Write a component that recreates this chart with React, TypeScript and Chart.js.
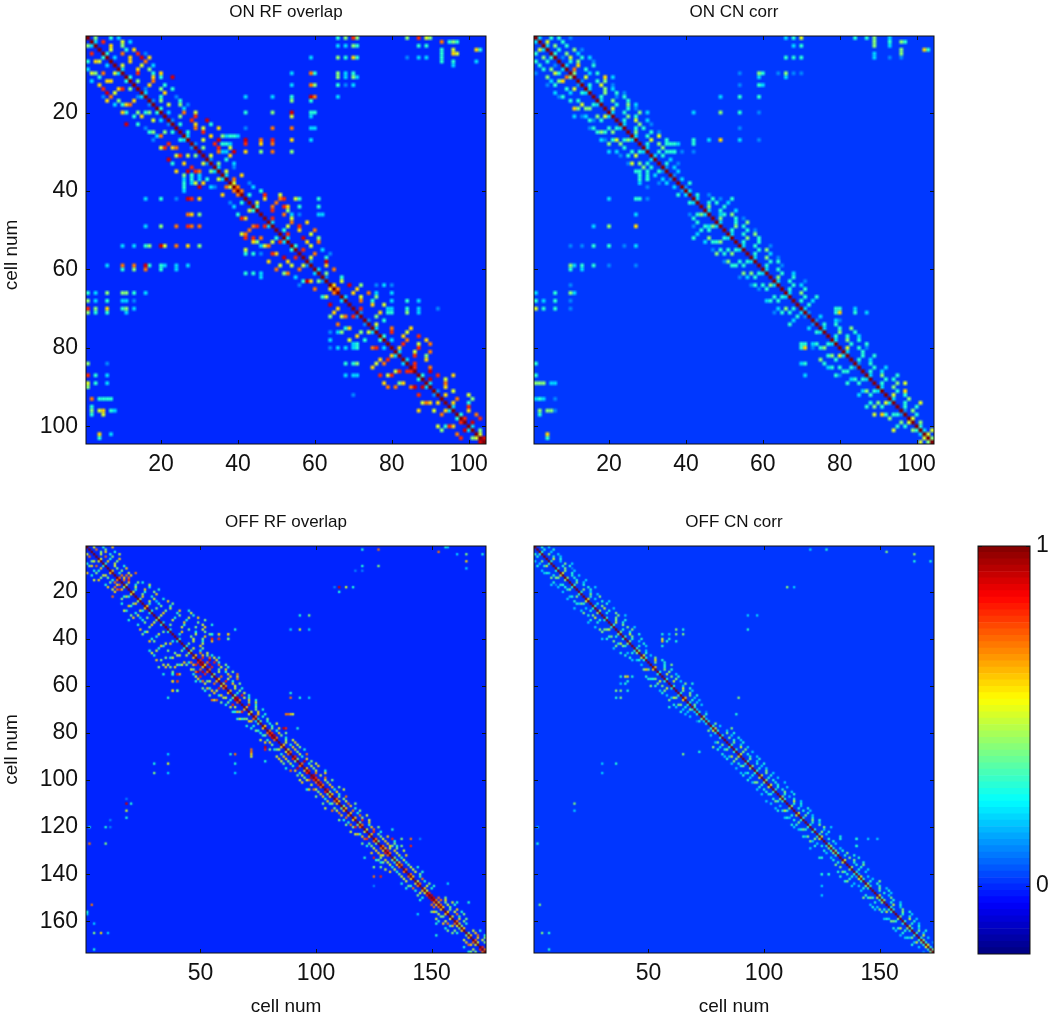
import { useEffect, useRef } from "react";
import { Chart, registerables } from "chart.js";

Chart.register(...registerables);

// Matrices are symmetric. Band rows: char k of row r is the level of the cell (r, r+k+1).
// Levels: "." empty, 0 = 0.05, 1..9 = 0.1..0.9, X = 1. Spots: "row|col:level ...".
const onRfBand = [
  ".4...3.2", "2.8....5.2", "...6..4", "..5...3.6", "3...7...8.1", ".2...6..9.6", "....6...7", ".5....5..2", "2...6..4", "...8...3.6",
  "3.....6.3..9", ".4...7", "...6...3", ".1...4..3", "2....6", "...3...1", "1.4....3", "...5..4.1", "3.....2", ".2...7..5",
  "...4...8", "1....8...9", ".3...6...3", "....7.5...6", ".3...8", "2.....6..4", "...5...9", "1....8.2", ".4...8..5", "....7...9",
  ".5....6", "1...3", ".4...2", "2...1", ".5", "2...6", ".7", "5...1", "7...2", "7....3",
  ".3...8...5", "....6...7...5", ".5....7", "3...7...6", "...8...4", ".....7.2.1", ".8....5", "2....7...6", "...5..8", ".3...6...7",
  ".8.....5", "2...9...4", "....6..7", "3...5", ".8....2", "...7...1", ".5...3", "1...9", "...6", "2...7",
  ".4", "1...3", "...5", "6...9..4", "7....6", "...6...7", "2...5...4", "...7..3", ".....6..5", ".8",
  "1....6", "...4", "1...3", ".5", "2...7....6", "...8...5", "3....6...8", ".2...7....6", "...8...5..7", ".6....8",
  "2...5...7", "...8..4", "2....6", ".8", "8...7", "...9", "3...8...6", ".9...5", "2...7", "...6",
  "1...5", ".6.....5", "...7...4", ".6...3", "2...8", "...6....5", "3...7", "8...8", ".9", "2...5",
  ".4", "5.8", "9",
];
const onRfSpots = [
  "1|66:3 68:4 70:8 71:4 84:4 87:8 89:5 90:4", "2|93:7 95:3 96:4 97:3", "3|66:2 68:2 70:4 71:3 87:3 89:3", "4|93:3 96:5 102:6 103:3",
  "5|93:3 96:6 97:5", "6|59:2 66:4 68:3 70:6 71:3 84:1 87:2 89:2 93:3", "7|93:3 96:3 102:2", "8|96:2", "10|54:2 59:7 60:3 66:4 68:2 70:3",
  "11|66:4 68:2 70:4 71:2", "13|54:2 59:7 60:4 66:3 68:1 70:2", "16|42:2 49:2 54:3 59:9 60:7 66:2", "17|54:4 59:3", "20|42:3 49:4 54:9 59:3 60:3",
  "21|54:5 59:2", "24|42:1 49:7 54:7 59:2 60:2", "26|37:2 38:3 39:3 40:2", "27|42:9 46:7 49:8 54:6 59:2", "28|36:3 37:3 38:2 42:8 46:6 49:7",
  "30|36:2 37:2 42:6 46:4 49:7 54:4", "42|52:8 56:3 61:3", "44|52:8 56:3 61:3", "46|61:2 62:2", "64|76:1 78:2 80:1", "66|76:2 80:2",
  "68|80:2 84:3 87:2", "70|79:2 80:2 84:3 87:2 92:1", "71|79:3 80:3 84:4 87:2",
];

const onCnBand = [
  "2..3.3..1", ".5...3", "2.4..3", "..3...4.1", "3..4..2", ".1.5..3.2", "..3.4...1", "2..6...3", ".7..3", "4...2.3",
  "..5....6.2", "1...3.4", ".3..5..1", "2...4.2", "...4..3.1", ".3...1.3", "2..4...3", "...3..4.2", ".5...3.1", "2..3...4.2",
  "...4.3", ".3..5..2", "2...4..1", "..3.3", ".4...3.1", "2..3..5", "...5...3", ".3..4..1", "2...4", "..3...3.1",
  "2.3", "...2", ".3..1", "1.2", "..2", "1", ".2", "..3", "1", "2",
  ".3..1", "2...3", "..3.3..2", ".4...3", "2..3...2", "...3.4", ".4...3.1", "2...3..4", "...4.3", ".3...3.1",
  "2..3..4", "...4..3", ".3...3", "2..3...1", "...3.4", ".3...2", "2..4..1", "...3.3", ".3...1", "2..3",
  "...3..2", ".4...3", "2..3...1", "...3.2", ".3...3", "2..4", "...3..3", ".3..2", "..3", "2",
  "1", "..2", "1", ".3..3", "2...3..4", "...4...3", ".3..3..2", "2..4..3", "...3...3", ".5..3.1",
  "2...3", "...3..3", ".3..2", "1..3", "...3..2", ".3..2", "2..4...3", "...3.3", ".3...4.5", "2..4",
  "...3.6", ".5..3", "2...4", "..3...5", ".3..3", "1.4", "..3", "5", ".4", "3",
  "2.5", "5", "4",
];
const onCnSpots = [
  "1|66:2 68:3 70:5 84:3 87:3 89:4 93:2", "2|89:4 93:3 96:4 97:3", "3|68:2 70:3 89:4 93:2", "4|96:4 102:6 103:3", "5|89:2 96:4",
  "6|66:3 68:3 70:3 89:2 93:1 96:1", "10|54:1 59:4 60:3 64:1 66:4 68:1 70:1", "11|59:2 66:2", "13|54:1 59:3 60:2", "16|49:2 54:3 59:3",
  "20|42:2 49:4 54:3 59:1", "24|54:1", "27|42:3 46:2 49:6 54:2 59:1", "28|35:3 36:3 37:3 38:2 42:3", "30|35:3 36:3 37:2 42:1",
  "42|49:1 52:3", "46|49:2", "70|79:3 80:3 84:2", "71|79:3 80:6 84:3 87:2", "73|79:2 80:1",
];

const offRfBand = [
  "..5...3...6", "..7...4", "...4.6...3", "..5...3...5", "...7..4", "5...3...6", "..6...4", "3...5", "...5...3", "...4...6",
  "6...4", "..3...5..7", "..7.7.6", "7.6.7", ".7.8", "..6...4.3", "4...3.....5", "...5.....3", "..3...6.....3", "5....3...4",
  "...4.....6", "..6...3", "4.....5...3", "...5..2....6", "..3...3.....4", "6.....4...3", "...4.....5", "3.....4.....6...3", "....6.....3.....5", "..5.......4.....3",
  "4......3.....5...6", ".....5.....3.......4", "3........6.....4", "..4.....3.......5...3", "......5.....4...6", "3.......4.....5", "....6.....3...4", "..3......5.....4", "......4.....6", "3.....5...4",
  ".....5...3...6", "..4.....5", "3.....6", "..5...4", "4...3", "...7..5", "6..6.4.3", "..8..7.5.3", "8...9..6", "9.7..8.3",
  "6.9...7..4", "..8...5..3", "7...4..6", "...5..3..4", "4.....6...7", "..7...6..5", "6...5...7", "..8..3", "5...6..4", "7...5",
  "...5..3", "6...4", "..3..5", "4..8..3", "9..5.3", "7...6..3", "...4..5", "..8..3", "6...4", "...4..3",
  "5..6", "..6..3", "7..3", "2...4", "4..3", "...3..5", "6..3", "..4..6", "7..3", "8..6..4",
  "9..4", "7...3", "...4..5", "..5...6", "6..3..5", "...6..4", "5..6...3", "7..4", "...5..7", "8..3",
  "4...6", "..9..4", "7..3..5", "...5..6", "6..4", "8..5...3", "..7...6", "9..5", "8...7", "7..5..4",
  "8..4", "7..6", "...6..4", "8..3...5", "4..6", "6..3", "..4..7", "7..4", "6..5", "...7..4",
  "4..6", "6...3", "..7..4", "6..3", "...7..5", "6..4", "..8..5", "4...6", "7..3", "...6..4",
  "5..7", "..8..3", "6..4", "...4..6", "7..5", "4..6...3", "...6..4", "7..6..3", "6.5..4", "8..6...5",
  "7..5", "...5..6", "4..3", "3..5", "6..3", "7..4", "...5..3", "7..5", "...5..3", "7...4",
  "6..3", "...7", "5..3", "7...4", "..5..3", "6..3", "5", "8", "9", "9.7..4",
  "7.7.6", "6..4..5", "7..5..3", "6..4", "..4..6", "6..5..3", "...7..4", "5..3", "..6..4", "7..4",
  "5..3", "4", "6", "...5..3", "4..6", "6..7..3", "..6..4", "7..5", "5..4..6", "...6..3",
  "8..5", "7..4", "8..5..3",
];
const offRfSpots = [
  "1|156:3 157:2", "2|120:3 127:7", "3|153:7", "4|161:2 165:4 172:3", "7|165:6", "9|120:3 127:4", "10|165:2", "11|117:1 120:1",
  "18|108:1 110:9 113:5 116:3", "20|110:3", "30|93:3 97:4", "36|65:3 89:2 93:5 97:2", "38|55:3 58:5 62:6", "40|55:8 58:6 62:4",
  "55|38:3 40:8", "58|38:6 40:8", "62|38:6 40:3", "63|89:3", "65|89:7 93:3 97:2", "72|87:7 88:7 89:6 90:5", "78|86:9 87:8 92:3",
  "121|133:3", "125|133:8 137:4 141:7 145:1", "128|133:4 137:4 141:8", "152|161:3 166:3", "144|157:2",
];

const offCnBand = [
  "..3..2", "..3...3", "3...2", "..4...2", "...3..2", "..5..3", "3...2", ".....4..2", "...3..3", "3..4..1",
  "..4...2", "5...3", "...3..2", "4..3", "...3...2", "..4..2", "3...3", ".....3..2", "..4..3", "3...2",
  "...4..2", "..3...4", "5..2", ".....3..2", "..3...3", "3..4", "...5...2", "4...3", "..3...4", "......4..2",
  "3...4", "...4...3", "..5..3", "3...4", ".....4..2", "..3...4", "4...3", "...5...3", "3..4", "..3...3",
  "4...2", ".....3", "..3..2", "3", "4..2", "..3", "5..2", "3...4", "...6..3", "..4...3",
  ".....3..4", "6...3", "...4..3", "3...4", "..5...2", "...4..3", "3...4", "..5..2", "......4..3", "3...2",
  "...5..3", "..4...2", "3...4", "...4..3", "6...2", "..3..2", "3..2", ".4..2", "3", "2",
  "3..1", "..3", "4", "2", "3", "..4", "3..2", "5", "3...2", "...4..3",
  "3...2", "..4...3", "...3..2", "..4...3", "3...2", "...5..2", "3...4", "..4...2", "5..3", "...3..2",
  "..4...3", "3...2", "...3..3", "4...2", "..3..2", "3...4", "...4..2", "5...3", "..3...2", "4..3",
  "...3...2", "5..3", "..3...2", "3..3", "...4..2", "..3...3", "4..2", "3...3", "...5..2", "..3..3",
  "4...2", "..3...3", "...3..2", "5...3", "..4..2", "3...3", "...4..3", "..3..2", "3...4", ".....4..2",
  "3...2", "..4..3", "3..2", "5", "..3", "...3", "3..2", "4", "3..2", "4..3",
  "3...4", "..3...3", "...4...3", "5...4", "...3...3", "...3..4", "4...3", "..3...2", "3...2", "2",
  "5..2", "3...2", "..3...4", "4...3", "3...3", "...4..2", "..3...3", "...3..2", "5...2", "3...4",
  "4...3", "..3...2", "..5..3", "3...2", "3...4", "...4..3", "..3...2", "4...3", "...5..2", "3...3",
  "..3..2", "4...3", "3..2", "..4..3", "3..2", "..5", "3..2", "4", "3..1", "5",
  "3", "4", "3",
];
const offCnSpots = [
  "2|120:2 127:3", "3|153:4", "4|165:4", "7|165:3 172:3", "18|110:4 113:2", "30|93:2 97:2", "36|62:4 65:3 93:3", "38|56:3 59:2",
  "40|56:5 59:3", "56|41:6 43:3", "58|41:3", "62|38:4 41:3", "65|38:4 89:4", "72|88:3", "78|86:4", "125|133:3 140:3 145:2 149:2",
  "128|140:3", "133|124:3", "140|125:3 128:3",
];

const panelNames = ["ON RF overlap", "ON CN corr", "OFF RF overlap", "OFF CN corr"];
const onTicks = [20, 40, 60, 80, 100];
const offXTicks = [50, 100, 150];
const offYTicks = [20, 40, 60, 80, 100, 120, 140, 160];
const colorbarTicks = [0, 1];

const CMIN = -0.2;
const CMAX = 1;
const clamp = (v: number) => Math.max(0, Math.min(1, v));
const jet = (value: number) => {
  const idx = Math.min(63, Math.max(0, Math.floor(((value - CMIN) / (CMAX - CMIN)) * 64)));
  const f = (idx + 0.5) / 64;
  const r = clamp(Math.min(4 * f - 1.5, -4 * f + 4.5));
  const g = clamp(Math.min(4 * f - 0.5, -4 * f + 3.5));
  const b = clamp(Math.min(4 * f + 0.5, -4 * f + 2.5));
  return `rgb(${Math.round(r * 255)},${Math.round(g * 255)},${Math.round(b * 255)})`;
};
const level = (c: string) => (c === "X" ? 1 : c === "0" ? 0.05 : Number(c) / 10);

type Cell = { x: number; y: number; v: number };
const buildCells = (band: string[], spots: string[], size: number) => {
  const cells: Cell[] = [];
  const add = (r: number, c: number, v: number) => {
    if (r > size || c > size) return;
    cells.push({ x: c, y: r, v });
    if (r !== c) cells.push({ x: r, y: c, v });
  };
  band.forEach((row, i) => {
    [...row].forEach((ch, k) => {
      if (ch !== ".") add(i + 1, i + k + 2, level(ch));
    });
  });
  spots.forEach((s) => {
    const [r, rest] = s.split("|");
    rest.split(" ").forEach((p) => {
      const [c, l] = p.split(":");
      add(Number(r), Number(c), level(l));
    });
  });
  for (let i = 1; i <= size; i++) add(i, i, 1);
  return cells.sort((a, b) => a.v - b.v);
};

const FONT = "'Liberation Sans', Arial, sans-serif";

const frame = {
  id: "frame",
  beforeDatasetsDraw(chart: any, _a: any, o: any) {
    const { ctx, chartArea: a } = chart;
    if (o.bg != null) {
      ctx.fillStyle = jet(o.bg);
      ctx.fillRect(a.left, a.top, a.width, a.height);
    }
  },
  afterDatasetsDraw(chart: any, _a: any, o: any) {
    const { ctx, chartArea: a, scales, canvas } = chart;
    if (o.blur) {
      // Soften the finished cells as a whole: average of the picture over small shifts.
      const w = Math.round(a.width);
      const h = Math.round(a.height);
      const l = Math.round(a.left);
      const t = Math.round(a.top);
      const copy = document.createElement("canvas");
      copy.width = w;
      copy.height = h;
      copy.getContext("2d")!.drawImage(canvas, l, t, w, h, 0, 0, w, h);
      ctx.save();
      ctx.beginPath();
      ctx.rect(l, t, w, h);
      ctx.clip();
      ctx.imageSmoothingEnabled = true;
      const d = o.blur;
      const shifts = [[0, 0], [-d, 0], [d, 0], [0, -d], [0, d], [-d, -d], [d, d], [-d, d], [d, -d]];
      shifts.forEach(([dx, dy], n) => {
        ctx.globalAlpha = 1 / (n + 1);
        ctx.drawImage(copy, l + dx, t + dy);
      });
      ctx.restore();
    }
    ctx.save();
    ctx.strokeStyle = "#111";
    ctx.lineWidth = 1;
    ctx.beginPath();
    const L = 4;
    if (scales.x.type === "linear") {
      scales.x.ticks.forEach((tk: any) => {
        const p = Math.round(scales.x.getPixelForValue(tk.value)) + 0.5;
        ctx.moveTo(p, a.top);
        ctx.lineTo(p, a.top + L);
        ctx.moveTo(p, a.bottom);
        ctx.lineTo(p, a.bottom - L);
      });
    }
    scales.y.ticks.forEach((tk: any) => {
      const p = Math.round(scales.y.getPixelForValue(tk.value)) + 0.5;
      ctx.moveTo(a.left, p);
      ctx.lineTo(a.left + L, p);
      ctx.moveTo(a.right, p);
      ctx.lineTo(a.right - L, p);
    });
    ctx.stroke();
    ctx.strokeRect(a.left, a.top, a.width, a.height);
    ctx.restore();
    if (o.yLabel) {
      ctx.save();
      ctx.translate(12, (a.top + a.bottom) / 2 + o.yLabelShift);
      ctx.rotate(-Math.PI / 2);
      ctx.fillStyle = "#111";
      ctx.font = `19px ${FONT}`;
      ctx.textAlign = "center";
      ctx.textBaseline = "middle";
      ctx.fillText(o.yLabel, 0, 0);
      ctx.restore();
    }
  },
};

type PanelSpec = {
  title: string; band: string[]; spots: string[]; size: number; xTicks: number[]; yTicks: number[];
  left: number; top: number; width: number; height: number; yWidth: number; xHeight: number; padRight: number;
  showY: boolean; showXTitle: boolean; bg: number; blur: number; yLabelShift: number;
};

const panels: PanelSpec[] = [
  { title: panelNames[0], band: onRfBand, spots: onRfSpots, size: 104, xTicks: onTicks, yTicks: onTicks, left: 0, top: 0, width: 500, height: 500, yWidth: 86, xHeight: 56, padRight: 14, showY: true, showXTitle: false, bg: 0, blur: 1.0, yLabelShift: 15 },
  { title: panelNames[1], band: onCnBand, spots: onCnSpots, size: 104, xTicks: onTicks, yTicks: onTicks, left: 520, top: 0, width: 446, height: 500, yWidth: 14, xHeight: 56, padRight: 32, showY: false, showXTitle: false, bg: 0.01, blur: 1.0, yLabelShift: 0 },
  { title: panelNames[2], band: offRfBand, spots: offRfSpots, size: 173, xTicks: offXTicks, yTicks: offYTicks, left: 0, top: 510, width: 500, height: 506, yWidth: 86, xHeight: 63, padRight: 14, showY: true, showXTitle: true, bg: 0, blur: 0.6, yLabelShift: 0 },
  { title: panelNames[3], band: offCnBand, spots: offCnSpots, size: 173, xTicks: offXTicks, yTicks: offYTicks, left: 520, top: 510, width: 446, height: 506, yWidth: 14, xHeight: 63, padRight: 32, showY: false, showXTitle: true, bg: 0.02, blur: 0.6, yLabelShift: 0 },
];

const setTicks = (vals: number[]) => (scale: any) => {
  scale.ticks = vals.map((value) => ({ value }));
};

function panelConfig(p: PanelSpec): any {
  const cells = buildCells(p.band, p.spots, p.size);
  return {
    type: "scatter",
    data: {
      datasets: [
        {
          data: cells.map(({ x, y }) => ({ x, y })),
          pointStyle: "rect",
          pointBorderWidth: 0,
          pointBackgroundColor: cells.map((c) => jet(c.v)),
          pointRadius: (ctx: any) => {
            const a = ctx.chart.chartArea;
            if (!a) return 2;
            return (((a.width + a.height) / 2 / p.size) * Math.SQRT2) / 2;
          },
        },
      ],
    },
    plugins: [frame],
    options: {
      responsive: false,
      animation: false,
      events: [],
      parsing: false,
      normalized: true,
      layout: { padding: { right: p.padRight, top: 0, bottom: 0, left: 0 } },
      plugins: {
        legend: { display: false },
        tooltip: { enabled: false },
        frame: { bg: p.bg, blur: p.blur, yLabel: p.showY ? "cell num" : "", yLabelShift: p.yLabelShift },
        title: {
          display: true,
          text: p.title,
          fullSize: false,
          color: "#111",
          font: { family: FONT, size: 17, weight: "normal", lineHeight: 1.2 },
          padding: { top: 2, bottom: 13.6 },
        },
      },
      scales: {
        x: {
          type: "linear",
          min: 0.5,
          max: p.size + 0.5,
          afterBuildTicks: setTicks(p.xTicks),
          afterFit: (s: any) => { s.height = p.xHeight; },
          grid: { display: false, drawTicks: false },
          border: { display: false },
          ticks: { color: "#111", autoSkip: false, maxRotation: 0, padding: 7, font: { family: FONT, size: 23 } },
          title: { display: p.showXTitle, text: "cell num", color: "#111", font: { family: FONT, size: 19 }, padding: { top: 0, bottom: -2 } },
        },
        y: {
          type: "linear",
          reverse: true,
          min: 0.5,
          max: p.size + 0.5,
          afterBuildTicks: setTicks(p.yTicks),
          afterFit: (s: any) => { s.width = p.yWidth; },
          grid: { display: false, drawTicks: false },
          border: { display: false },
          ticks: { display: p.showY, color: "#111", autoSkip: false, padding: 8, font: { family: FONT, size: 23 } },
        },
      },
    },
  };
}

function colorbarConfig(): any {
  const n = 64;
  const step = (CMAX - CMIN) / n;
  const datasets = Array.from({ length: n }, (_, i) => ({
    data: [[CMIN + i * step, CMIN + (i + 1) * step]],
    backgroundColor: jet(CMIN + (i + 0.5) * step),
    borderWidth: 0,
    grouped: false,
    barPercentage: 1,
    categoryPercentage: 1,
  }));
  return {
    type: "bar",
    data: { labels: ["colorbar"], datasets },
    plugins: [frame],
    options: {
      responsive: false,
      animation: false,
      events: [],
      layout: { padding: { top: 16, bottom: 16, left: 18, right: 0 } },
      plugins: { legend: { display: false }, tooltip: { enabled: false }, title: { display: false } },
      scales: {
        x: { display: false, type: "category", offset: true },
        y: {
          position: "right",
          min: CMIN,
          max: CMAX,
          afterBuildTicks: setTicks(colorbarTicks),
          afterFit: (s: any) => { s.width = 20; s.paddingTop = 0; s.paddingBottom = 0; },
          grid: { display: false, drawTicks: false },
          border: { display: false },
          ticks: { color: "#111", padding: 6, font: { family: FONT, size: 23 } },
        },
      },
    },
  };
}

function ChartCanvas({ config, left, top, width, height }: { config: () => any; left: number; top: number; width: number; height: number }) {
  const ref = useRef<HTMLCanvasElement>(null);
  useEffect(() => {
    const chart = new Chart(ref.current!, config());
    return () => chart.destroy();
  }, []);
  return <canvas ref={ref} width={width} height={height} style={{ position: "absolute", left, top, width, height }} />;
}

export default function App() {
  return (
    <div style={{ position: "absolute", left: 0, top: 0, width: 1050, height: 1016, overflow: "hidden", background: "#fff" }}>
      {panels.map((p) => (
        <ChartCanvas key={p.title} config={() => panelConfig(p)} left={p.left} top={p.top} width={p.width} height={p.height} />
      ))}
      <ChartCanvas config={colorbarConfig} left={960} top={530} width={90} height={440} />
    </div>
  );
}
